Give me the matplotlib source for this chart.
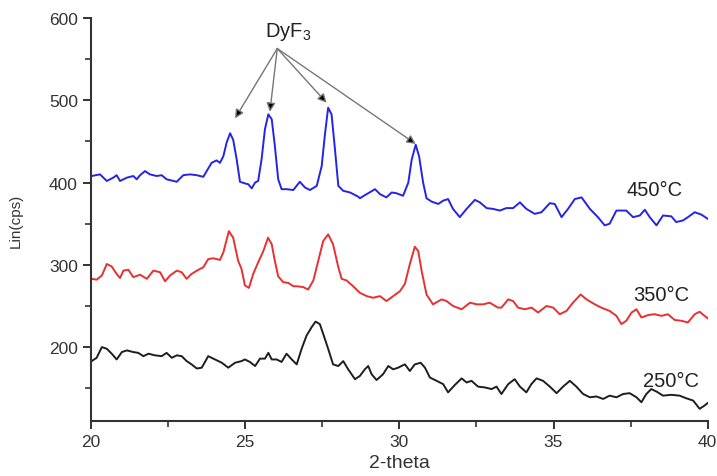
import matplotlib
matplotlib.use("Agg")
import matplotlib.pyplot as plt
from matplotlib.ticker import MultipleLocator

plt.rcParams['font.family'] = ['Liberation Sans', 'DejaVu Sans']
plt.rcParams['mathtext.default'] = 'regular'

# 450 C pattern (blue)
x_450 = [20.02, 20.29, 20.51, 20.72, 20.83, 20.94, 21.16, 21.37, 21.48, 21.59,
         21.75, 21.91, 22.13, 22.29, 22.45, 22.78, 22.99, 23.21, 23.43, 23.64,
         23.75, 23.91, 24.07, 24.18, 24.29, 24.40, 24.51, 24.61, 24.72, 24.83,
         24.99, 25.10, 25.21, 25.32, 25.42, 25.53, 25.64, 25.75, 25.86, 25.96,
         26.07, 26.18, 26.34, 26.56, 26.77, 26.94, 27.10, 27.32, 27.48, 27.59,
         27.69, 27.80, 27.91, 28.02, 28.18, 28.40, 28.66, 28.72, 28.94, 29.21,
         29.37, 29.58, 29.75, 29.91, 30.12, 30.29, 30.40, 30.53, 30.64, 30.77,
         30.88, 31.04, 31.26, 31.42, 31.58, 31.74, 31.96, 32.18, 32.45, 32.61,
         32.83, 33.04, 33.26, 33.47, 33.69, 33.91, 34.12, 34.39, 34.61, 34.88,
         35.04, 35.26, 35.47, 35.69, 35.91, 36.18, 36.44, 36.66, 36.82, 37.04,
         37.36, 37.58, 37.80, 37.96, 38.12, 38.34, 38.55, 38.82, 38.98, 39.20,
         39.36, 39.58, 39.80, 40.00]
y_450 = [408, 410, 402, 406, 409, 402, 406, 408, 404, 409,
         414, 410, 408, 409, 404, 401, 409, 410, 409, 407,
         414, 424, 427, 424, 432, 449, 460, 452, 429, 401,
         399, 398, 393, 400, 402, 428, 465, 483, 477, 445,
         404, 392, 392, 391, 401, 394, 391, 396, 420, 460,
         491, 483, 441, 396, 390, 388, 383, 381, 386, 392,
         386, 382, 388, 387, 384, 400, 428, 446, 432, 400,
         381, 377, 374, 378, 380, 368, 358, 368, 379, 376,
         369, 368, 366, 369, 369, 376, 368, 362, 364, 375,
         374, 358, 368, 380, 382, 368, 358, 348, 350, 366,
         366, 358, 360, 367, 358, 348, 360, 359, 352, 354,
         358, 364, 361, 356]

# 350 C pattern (red)
x_350 = [20.02, 20.18, 20.35, 20.51, 20.67, 20.83, 20.94, 21.05, 21.21, 21.37,
         21.59, 21.81, 22.02, 22.24, 22.40, 22.56, 22.78, 22.94, 23.10, 23.26,
         23.48, 23.64, 23.80, 23.96, 24.18, 24.29, 24.40, 24.47, 24.61, 24.77,
         24.88, 24.99, 25.12, 25.26, 25.42, 25.59, 25.74, 25.86, 25.96, 26.07,
         26.23, 26.40, 26.56, 26.67, 26.88, 27.04, 27.21, 27.37, 27.53, 27.69,
         27.85, 28.02, 28.13, 28.29, 28.50, 28.72, 28.94, 29.15, 29.37, 29.58,
         29.80, 30.02, 30.18, 30.34, 30.50, 30.61, 30.72, 30.88, 31.09, 31.37,
         31.53, 31.74, 32.02, 32.29, 32.51, 32.72, 32.93, 33.20, 33.31, 33.53,
         33.69, 33.85, 34.07, 34.29, 34.50, 34.77, 34.99, 35.20, 35.42, 35.63,
         35.88, 36.07, 36.34, 36.55, 36.82, 37.04, 37.20, 37.36, 37.53, 37.69,
         37.85, 38.07, 38.28, 38.50, 38.71, 38.93, 39.15, 39.36, 39.58, 39.74,
         39.90, 40.00]
y_350 = [283, 282, 287, 301, 298, 289, 284, 293, 294, 285,
         288, 283, 293, 291, 280, 287, 293, 291, 283, 289,
         294, 297, 307, 308, 306, 315, 331, 341, 333, 305,
         295, 275, 272, 289, 303, 317, 333, 325, 305, 286,
         279, 278, 274, 274, 273, 270, 281, 305, 329, 337,
         325, 297, 283, 281, 274, 266, 262, 260, 262, 256,
         262, 268, 277, 301, 322, 317, 293, 264, 252, 258,
         256, 250, 246, 254, 252, 252, 254, 248, 248, 258,
         256, 248, 246, 248, 242, 250, 248, 240, 244, 254,
         264, 258, 252, 248, 244, 238, 228, 232, 242, 246,
         236, 239, 240, 238, 240, 233, 232, 230, 240, 243,
         238, 235]

# 250 C pattern (black)
x_250 = [20.02, 20.18, 20.35, 20.51, 20.67, 20.83, 21.00, 21.16, 21.37, 21.53,
         21.70, 21.86, 22.07, 22.29, 22.45, 22.62, 22.78, 22.94, 23.10, 23.26,
         23.43, 23.59, 23.80, 24.02, 24.24, 24.45, 24.67, 24.88, 24.99, 25.15,
         25.32, 25.48, 25.64, 25.75, 25.86, 26.02, 26.18, 26.34, 26.51, 26.67,
         26.83, 26.99, 27.15, 27.28, 27.42, 27.53, 27.69, 27.85, 28.02, 28.18,
         28.34, 28.56, 28.72, 28.88, 28.99, 29.10, 29.26, 29.47, 29.64, 29.80,
         29.96, 30.12, 30.18, 30.34, 30.50, 30.69, 30.83, 30.99, 31.21, 31.42,
         31.58, 31.80, 32.02, 32.18, 32.34, 32.55, 32.77, 32.99, 33.15, 33.31,
         33.53, 33.74, 33.91, 34.12, 34.28, 34.45, 34.66, 34.88, 35.10, 35.31,
         35.53, 35.74, 35.96, 36.18, 36.39, 36.61, 36.82, 37.04, 37.26, 37.47,
         37.69, 37.85, 38.01, 38.17, 38.34, 38.55, 38.82, 39.09, 39.29, 39.53,
         39.74, 39.90, 40.00]
y_250 = [183, 187, 200, 198, 192, 185, 194, 196, 194, 193,
         189, 192, 190, 189, 193, 187, 190, 189, 183, 179,
         174, 175, 189, 185, 181, 175, 181, 183, 185, 182,
         177, 186, 186, 193, 185, 185, 182, 192, 185, 179,
         198, 214, 224, 231, 228, 216, 198, 179, 177, 183,
         173, 161, 165, 173, 177, 167, 160, 167, 177, 173,
         175, 178, 179, 171, 179, 181, 175, 163, 159, 155,
         145, 154, 162, 157, 159, 152, 151, 149, 152, 143,
         155, 161, 152, 145, 155, 162, 159, 152, 144, 152,
         159, 152, 143, 139, 140, 137, 141, 139, 143, 144,
         139, 133, 143, 149, 146, 141, 142, 141, 138, 135,
         125, 129, 132]

# DyF3 reflections the arrows point to
peak_x = [24.67, 25.80, 27.64, 30.53]
peak_y = [478, 486, 497, 447]

fig = plt.figure(figsize=(7.17, 4.77), dpi=100)
ax = fig.add_axes([0.127, 0.115, 0.860, 0.845])

ax.plot(x_450, y_450, color='#2424e6', lw=1.4)
ax.plot(x_350, y_350, color='#e83030', lw=1.4)
ax.plot(x_250, y_250, color='#1e1e1e', lw=1.4)

ax.set_xlim(20, 40)
ax.set_ylim(110, 600)
ax.xaxis.set_major_locator(MultipleLocator(5))
ax.xaxis.set_minor_locator(MultipleLocator(2.5))
ax.yaxis.set_major_locator(MultipleLocator(100))
ax.yaxis.set_minor_locator(MultipleLocator(50))
ax.set_yticks([200, 300, 400, 500, 600])

for side in ['top', 'right']:
    ax.spines[side].set_visible(False)
for side in ['left', 'bottom']:
    ax.spines[side].set_linewidth(1.5)
    ax.spines[side].set_color('#333333')
ax.tick_params(which='major', length=6, width=1.4, color='#333333',
               labelsize=12.5, labelcolor='#333333')
ax.tick_params(which='minor', length=4, width=1.2, color='#333333')

ax.set_xlabel('2-theta', fontsize=14, color='#333333')
ax.set_ylabel('Lin(cps)', fontsize=11, color='#333333')
ax.xaxis.set_label_coords(0.5, -0.082)
ax.yaxis.set_label_coords(-0.11, 0.5)

ax.text(37.37, 392, '450°C', fontsize=14.5, color='#222222', va='center', ha='left')
ax.text(37.57, 264, '350°C', fontsize=14.5, color='#222222', va='center', ha='left')
ax.text(37.89, 160, '250°C', fontsize=14.5, color='#222222', va='center', ha='left')

ax.text(26.39, 584, 'DyF$_3$', fontsize=14.5, color='#222222', va='center', ha='center')
for px, py in zip(peak_x, peak_y):
    ax.annotate('', xy=(px, py), xytext=(26.04, 563),
                arrowprops=dict(arrowstyle='-|>', ec='#777777', fc='black',
                                lw=1.0, shrinkA=0, shrinkB=0,
                                mutation_scale=13))

fig.savefig('out.png', dpi=100)
